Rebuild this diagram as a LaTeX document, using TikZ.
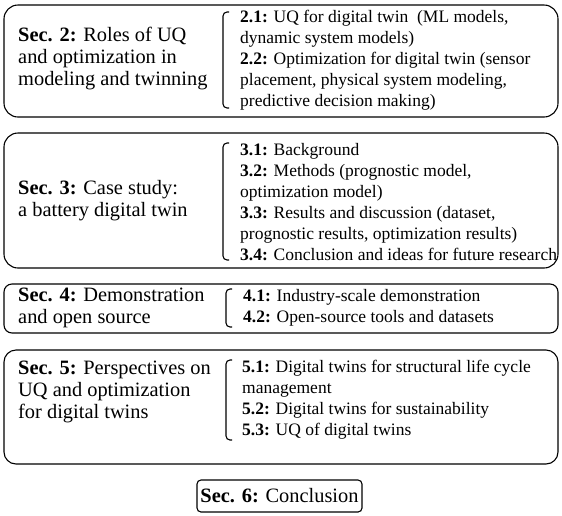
\documentclass[tikz,border=0pt]{standalone}
\usepackage{fontspec}
\setmainfont{Liberation Serif}
\begin{document}
\begin{tikzpicture}[x=1pt,y=-1pt,
  secbox/.style={draw,line width=1.1pt,rounded corners=#1,inner sep=0pt},
  secbox/.default=14pt,
  lefttxt/.style={anchor=west,inner sep=0pt,align=left,font=\fontsize{20.4}{22}\selectfont},
  righttxt/.style={anchor=west,inner sep=0pt,align=left,font=\fontsize{17.5}{21}\selectfont},
  brk/.style={line width=1.1pt,rounded corners=4pt}]
\useasboundingbox (0,0) rectangle (562,515);
% boxes
\node[secbox, minimum width=554pt, minimum height=112pt] (b2) at (281,61) {};
\node[secbox, minimum width=554pt, minimum height=135pt] (b3) at (281,200.5) {};
\node[secbox=8pt, minimum width=554pt, minimum height=49pt] (b4) at (281,308.5) {};
\node[secbox=12pt, minimum width=554pt, minimum height=114pt] (b5) at (281,407) {};
\node[secbox=4pt, minimum width=165pt, minimum height=32pt,font=\fontsize{20.4}{22}\selectfont] (b6) at (279.5,496) {\textbf{Sec. 6:} Conclusion};
% Sec 2
\node[lefttxt] (l2) at (18,59) {\textbf{Sec. 2:} Roles of UQ\\and optimization in\\modeling and twinning};
\draw[brk] (229,12) -- (223,12) -- (223,108) -- (229,108);
\node[righttxt] (r2) at (240,60) {\textbf{2.1:} UQ for digital twin\ \ (ML models,\\dynamic system models)\\\textbf{2.2:} Optimization for digital twin (sensor\\placement, physical system modeling,\\predictive decision making)};
% Sec 3
\node[lefttxt] (l3) at (18,201) {\textbf{Sec. 3:} Case study:\\a battery digital twin};
\draw[brk] (229,143) -- (223,143) -- (223,260) -- (229,260);
\node[righttxt] (r3) at (240,202) {\textbf{3.1:} Background\\\textbf{3.2:} Methods (prognostic model,\\optimization model)\\\textbf{3.3:} Results and discussion (dataset,\\prognostic results, optimization results)\\\textbf{3.4:} Conclusion and ideas for future research};
% Sec 4
\node[lefttxt] (l4) at (18,308) {\textbf{Sec. 4:} Demonstration\\and open source};
\draw[brk] (232,289) -- (226,289) -- (226,327) -- (232,327);
\node[righttxt] (r4) at (243,308) {\textbf{4.1:} Industry-scale demonstration\\\textbf{4.2:} Open-source tools and datasets};
% Sec 5
\node[lefttxt] (l5) at (18,392) {\textbf{Sec. 5:} Perspectives on\\UQ and optimization\\for digital twins};
\draw[brk] (232,360) -- (226,360) -- (226,440) -- (232,440);
\node[righttxt] (r5) at (242,400) {\textbf{5.1:} Digital twins for structural life cycle\\management\\\textbf{5.2:} Digital twins for sustainability\\\textbf{5.3:} UQ of digital twins};
\end{tikzpicture}
\end{document}
